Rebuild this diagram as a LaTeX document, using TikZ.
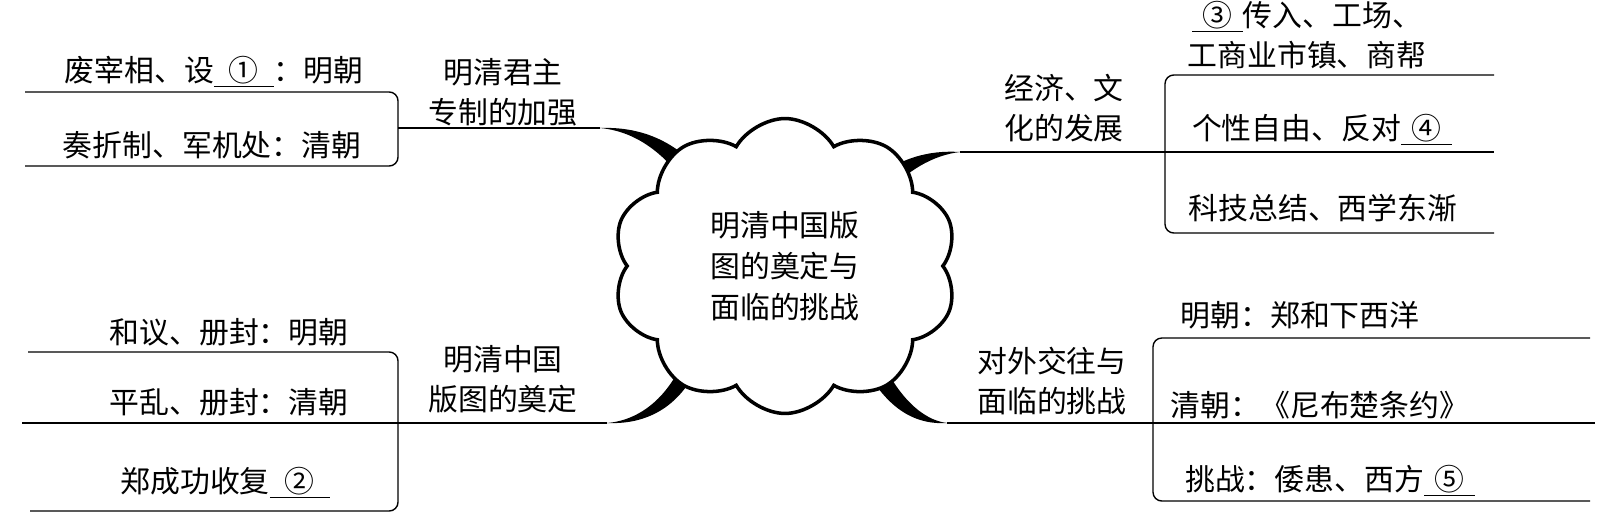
\documentclass[tikz,border=0pt]{standalone}
\usepackage{fontspec}
\setmainfont{Noto Sans CJK SC}
\usetikzlibrary{shapes.symbols,positioning}
\newcommand{\fillblank}[2][2em]{\underline{\makebox[#1]{#2}}}
\tikzset{
  leaftext/.style={
    font=\fontsize{17}{22.8}\selectfont,
    inner sep=0pt,
    align=center
  },
  topictext/.style={
    font=\fontsize{17}{22.8}\selectfont,
    inner sep=0pt,
    align=center
  },
  hubcloud/.style={
    cloud, cloud puffs=10, cloud puff arc=120, aspect=1.3,
    draw, line width=2pt, fill=white,
    minimum width=6.9cm, minimum height=5.9cm,
    inner sep=0pt, align=center,
    font=\fontsize{17}{23.4}\selectfont
  },
  bracketline/.style={line width=0.8pt, rounded corners=5pt},
  branchfill/.style={fill=black}
}

\begin{document}
\begin{tikzpicture}[x=0.02cm,y=-0.02cm]
  \useasboundingbox (0,0) rectangle (1616,531);
  \coordinate (monarchyEnd) at (600,128);
  \coordinate (territoryEnd) at (607,423);
  \coordinate (economyEnd) at (960,152);
  \coordinate (foreignEnd) at (947,423);
  % thick branches into the cloud
  \fill[branchfill] (monarchyEnd) .. controls (652,126) and (688,150) .. (716,190)
    -- (700,203) .. controls (673,162) and (643,132) .. (monarchyEnd) -- cycle;
  \fill[branchfill] (territoryEnd) .. controls (652,425) and (686,402) .. (703,354)
    -- (688,348) .. controls (673,393) and (643,420) .. (territoryEnd) -- cycle;
  \fill[branchfill] (economyEnd) .. controls (928,150) and (898,158) .. (868,184)
    -- (882,199) .. controls (906,170) and (934,155) .. (economyEnd) -- cycle;
  \fill[branchfill] (foreignEnd) .. controls (913,425) and (885,407) .. (862,362)
    -- (878,353) .. controls (897,396) and (922,420) .. (foreignEnd) -- cycle;
  \node[hubcloud] (hub) at (785,266) {明清中国版\\图的奠定与\\面临的挑战};

  % left top
  \coordinate (monarchyTop) at (25,92);
  \coordinate (monarchyBot) at (25,166);
  \coordinate (monarchyFork) at (398,128);
  \draw[bracketline] (monarchyTop) -| (monarchyFork) |- (monarchyBot);
  \draw[line width=0.8pt] (monarchyFork) -- (monarchyEnd);
  \node[leaftext] (monarchyA) at (214,72) {废宰相、设\fillblank{①}：明朝};
  \node[leaftext] (monarchyB) at (212,145) {奏折制、军机处：清朝};
  \node[topictext] (monarchy) at (503,92) {明清君主\\专制的加强};

  % left bottom
  \coordinate (territoryTop) at (28,352);
  \coordinate (territoryMid) at (22,423);
  \coordinate (territoryBot) at (30,511);
  \coordinate (territoryFork) at (398,423);
  \draw[bracketline] (territoryTop) -| (territoryFork) |- (territoryBot);
  \draw[line width=0.8pt] (territoryMid) -- (territoryEnd);
  \node[leaftext] (territoryA) at (229,332) {和议、册封：明朝};
  \node[leaftext] (territoryB) at (229,402) {平乱、册封：清朝};
  \node[leaftext] (territoryC) at (225,483) {郑成功收复\fillblank{②}};
  \node[topictext] (territory) at (503,379) {明清中国\\版图的奠定};

  % right top
  \coordinate (economyTop) at (1494,75);
  \coordinate (economyMid) at (1494,152);
  \coordinate (economyBot) at (1494,233);
  \coordinate (economyFork) at (1165,152);
  \draw[bracketline] (economyTop) -| (economyFork) |- (economyBot);
  \draw[line width=0.8pt] (economyEnd) -- (economyMid);
  \node[topictext] (economy) at (1064,108) {经济、文\\化的发展};
  \node[leaftext] (economyA) at (1307,35) {\fillblank[1.7em]{③}传入、工场、\\工商业市镇、商帮};
  \node[leaftext] (economyB) at (1322,130) {个性自由、反对\fillblank[1.7em]{④}};
  \node[leaftext] (economyC) at (1323,208) {科技总结、西学东渐};

  % right bottom
  \coordinate (foreignTop) at (1590,338);
  \coordinate (foreignMid) at (1595,423);
  \coordinate (foreignBot) at (1590,501);
  \coordinate (foreignFork) at (1153,423);
  \draw[bracketline] (foreignTop) -| (foreignFork) |- (foreignBot);
  \draw[line width=0.8pt] (foreignEnd) -- (foreignMid);
  \node[topictext] (foreign) at (1052,381) {对外交往与\\面临的挑战};
  \node[leaftext] (foreignA) at (1300,315) {明朝：郑和下西洋};
  \node[leaftext] (foreignB) at (1320,405) {清朝：《尼布楚条约》};
  \node[leaftext] (foreignC) at (1330,481) {挑战：倭患、西方\fillblank[1.7em]{⑤}};
\end{tikzpicture}
\end{document}
